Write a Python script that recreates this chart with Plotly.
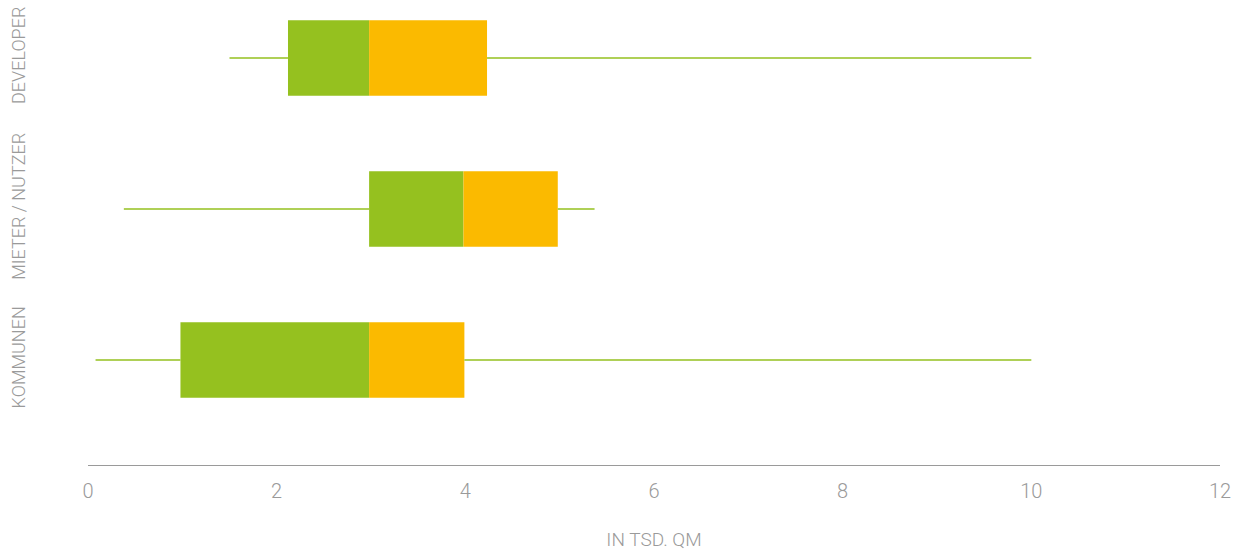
"""
Box-style range chart: floor space per stakeholder group (in Tsd. qm).
"""

import plotly.graph_objects as go

# ─── Data ─────────────────────────────────────────────────────────────────────
groups = ["KOMMUNEN", "MIETER / NUTZER", "DEVELOPER"]
whisker_low = [0.08, 0.38, 1.5]
q1 = [0.98, 2.98, 2.12]
median = [2.98, 3.98, 2.98]
q3 = [3.99, 4.98, 4.23]
whisker_high = [10.0, 5.37, 10.0]

x_ticks = [0, 2, 4, 6, 8, 10, 12]
x_title = "IN TSD. QM"

GREEN = "#95c11f"
ORANGE = "#fbba00"
GREY = "#9a9a9a"
FONT = "Roboto, sans-serif"

fig = go.Figure()

# whiskers (drawn first so boxes cover them)
for g, lo, a, b, hi in zip(groups, whisker_low, q1, q3, whisker_high):
    fig.add_trace(go.Scatter(
        x=[lo, a, None, b, hi],
        y=[g, g, None, g, g],
        mode="lines",
        line=dict(color=GREEN, width=1.5),
        showlegend=False,
        hoverinfo="skip",
    ))

# lower half of the box: q1 -> median
fig.add_trace(go.Bar(
    y=groups,
    x=[m - a for a, m in zip(q1, median)],
    base=q1,
    orientation="h",
    width=0.5,
    marker=dict(color=GREEN, line=dict(width=0)),
    showlegend=False,
))
# upper half of the box: median -> q3
fig.add_trace(go.Bar(
    y=groups,
    x=[b - m for m, b in zip(median, q3)],
    base=median,
    orientation="h",
    width=0.5,
    marker=dict(color=ORANGE, line=dict(width=0)),
    showlegend=False,
))

fig.update_layout(
    width=1239,
    height=551,
    barmode="overlay",
    paper_bgcolor="white",
    plot_bgcolor="white",
    margin=dict(l=88, r=19, t=0, b=86, autoexpand=False),
    font=dict(family=FONT, color=GREY, size=18, weight=300),
)
fig.update_xaxes(
    range=[0, 12],
    tickvals=x_ticks,
    automargin=False,
    showgrid=False,
    zeroline=False,
    showline=True,
    linecolor=GREY,
    linewidth=1,
    ticks="",
    ticklabelstandoff=8,
    tickfont=dict(size=20, weight=300),
    title=dict(text=x_title, standoff=32, font=dict(size=19, color=GREY, weight=300)),
)
fig.update_yaxes(
    type="category",
    categoryorder="array",
    categoryarray=groups,
    range=[-0.695, 2.384],
    automargin=False,
    showgrid=False,
    zeroline=False,
    showline=False,
    ticks="",
    tickangle=-90,
    ticklabelstandoff=58,
    tickfont=dict(size=18, weight=300),
)

# drop the default page margin so the figure sits at the window's corner
fig.write_html(
    "out.html",
    config={"displayModeBar": False},
    post_script="document.body.style.margin='0';",
)
